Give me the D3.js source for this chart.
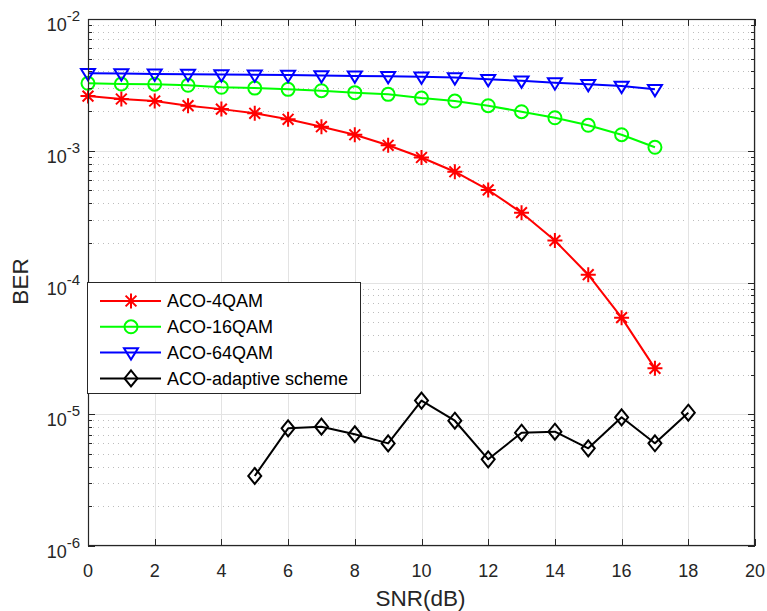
<!DOCTYPE html>
<html>
<head>
<meta charset="utf-8">
<script src="https://cdn.jsdelivr.net/npm/d3@7"></script>
<style>
  html, body { margin: 0; padding: 0; background: #fff; }
  svg { display: block; font-family: "Liberation Sans", Arial, Helvetica, sans-serif; }
</style>
</head>
<body>
<svg id="chart" width="767" height="611"></svg>
<script>
// SNR points (dB)
const snr = [0, 1, 2, 3, 4, 5, 6, 7, 8, 9, 10, 11, 12, 13, 14, 15, 16, 17];
const snrAdaptive = [5, 6, 7, 8, 9, 10, 11, 12, 13, 14, 15, 16, 17, 18];

// BER per scheme
const ber4qam = [2.60e-3, 2.47e-3, 2.385e-3, 2.20e-3, 2.07e-3, 1.925e-3, 1.733e-3, 1.522e-3, 1.323e-3,
                 1.10e-3, 8.89e-4, 6.93e-4, 5.04e-4, 3.39e-4, 2.08e-4, 1.146e-4, 5.41e-5, 2.23e-5];
const ber16qam = [3.25e-3, 3.21e-3, 3.20e-3, 3.14e-3, 3.03e-3, 2.99e-3, 2.925e-3, 2.855e-3, 2.76e-3,
                  2.68e-3, 2.51e-3, 2.385e-3, 2.198e-3, 1.978e-3, 1.78e-3, 1.56e-3, 1.323e-3, 1.062e-3];
const ber64qam = [3.87e-3, 3.85e-3, 3.83e-3, 3.81e-3, 3.79e-3, 3.77e-3, 3.75e-3, 3.72e-3, 3.70e-3,
                  3.67e-3, 3.64e-3, 3.59e-3, 3.485e-3, 3.40e-3, 3.285e-3, 3.195e-3, 3.10e-3, 2.925e-3];
const berAdaptive = [3.40e-6, 7.82e-6, 8.05e-6, 7.05e-6, 6.01e-6, 1.27e-5, 8.93e-6, 4.55e-6,
                     7.24e-6, 7.37e-6, 5.51e-6, 9.48e-6, 6.02e-6, 1.027e-5];

const seriesNames = ["ACO-4QAM", "ACO-16QAM", "ACO-64QAM", "ACO-adaptive scheme"];
const xTicks = [0, 2, 4, 6, 8, 10, 12, 14, 16, 18, 20];
const yExponents = [-6, -5, -4, -3, -2];

const series = [
  { name: seriesNames[0], x: snr, y: ber4qam, color: "#ff0000", marker: "star" },
  { name: seriesNames[1], x: snr, y: ber16qam, color: "#00ff00", marker: "circle" },
  { name: seriesNames[2], x: snr, y: ber64qam, color: "#0000ff", marker: "triangleDown" },
  { name: seriesNames[3], x: snrAdaptive, y: berAdaptive, color: "#000000", marker: "diamond" }
];

const svg = d3.select("#chart");
const plotL = 88, plotR = 755, plotT = 19, plotB = 546;
const axisColor = "#262626";

const x = d3.scaleLinear().domain([0, 20]).range([plotL, plotR]);
const y = d3.scaleLog().domain([1e-6, 1e-2]).range([plotB, plotT]);

// minor decade values 2..9 × 10^k
const minorVals = [];
for (let e = -6; e < -2; e++) for (let m = 2; m <= 9; m++) minorVals.push(m * Math.pow(10, e));

const grid = svg.append("g");
// minor horizontal grid (dotted)
grid.selectAll("line.minor").data(minorVals).join("line")
  .attr("x1", plotL).attr("x2", plotR)
  .attr("y1", d => Math.round(y(d)) + 0.5).attr("y2", d => Math.round(y(d)) + 0.5)
  .attr("stroke", "#bdbdbd").attr("stroke-width", 1).attr("stroke-dasharray", "1,4");
// major horizontal grid
grid.selectAll("line.hmaj").data(yExponents).join("line")
  .attr("x1", plotL).attr("x2", plotR)
  .attr("y1", d => Math.round(y(Math.pow(10, d))) + 0.5).attr("y2", d => Math.round(y(Math.pow(10, d))) + 0.5)
  .attr("stroke", "#e3e3e3").attr("stroke-width", 1);
// major vertical grid
grid.selectAll("line.vmaj").data(xTicks).join("line")
  .attr("x1", d => Math.round(x(d)) + 0.5).attr("x2", d => Math.round(x(d)) + 0.5)
  .attr("y1", plotT).attr("y2", plotB)
  .attr("stroke", "#e3e3e3").attr("stroke-width", 1);

// data lines and markers
const plot = svg.append("g");
function drawMarker(g, type, cx, cy, color) {
  if (type === "star") {
    const r = 7.5, d = r * 0.72;
    const p = `M${cx - r},${cy}L${cx + r},${cy}M${cx},${cy - r}L${cx},${cy + r}` +
              `M${cx - d},${cy - d}L${cx + d},${cy + d}M${cx - d},${cy + d}L${cx + d},${cy - d}`;
    g.append("path").attr("d", p).attr("stroke", color).attr("stroke-width", 2).attr("fill", "none");
  } else if (type === "circle") {
    g.append("circle").attr("cx", cx).attr("cy", cy).attr("r", 6.5)
      .attr("stroke", color).attr("stroke-width", 2).attr("fill", "none");
  } else if (type === "triangleDown") {
    const w = 7, h = 7;
    g.append("path").attr("d", `M${cx - w},${cy - h * 0.62}L${cx + w},${cy - h * 0.62}L${cx},${cy + h}Z`)
      .attr("stroke", color).attr("stroke-width", 2).attr("fill", "none");
  } else if (type === "diamond") {
    const w = 6.5, h = 8;
    g.append("path").attr("d", `M${cx},${cy - h}L${cx + w},${cy}L${cx},${cy + h}L${cx - w},${cy}Z`)
      .attr("stroke", color).attr("stroke-width", 2).attr("fill", "none");
  }
}

const line = d3.line().x(d => x(d[0])).y(d => y(d[1]));
series.forEach(s => {
  const pts = s.x.map((v, i) => [v, s.y[i]]);
  plot.append("path").datum(pts).attr("d", line)
    .attr("fill", "none").attr("stroke", s.color).attr("stroke-width", 2)
    .attr("stroke-linejoin", "round");
  const mg = plot.append("g");
  pts.forEach(p => drawMarker(mg, s.marker, x(p[0]), y(p[1]), s.color));
});

// axes box and ticks
const ax = svg.append("g").attr("stroke", axisColor).attr("fill", "none");
ax.append("rect").attr("x", plotL + 0.5).attr("y", plotT + 0.5)
  .attr("width", plotR - plotL - 1).attr("height", plotB - plotT - 1)
  .attr("stroke-width", 1.2);
xTicks.forEach(t => {
  const px = Math.round(x(t)) + 0.5;
  ax.append("line").attr("x1", px).attr("x2", px).attr("y1", plotB).attr("y2", plotB - 7);
  ax.append("line").attr("x1", px).attr("x2", px).attr("y1", plotT).attr("y2", plotT + 7);
});
yExponents.forEach(e => {
  const py = Math.round(y(Math.pow(10, e))) + 0.5;
  ax.append("line").attr("x1", plotL).attr("x2", plotL + 7).attr("y1", py).attr("y2", py);
  ax.append("line").attr("x1", plotR).attr("x2", plotR - 7).attr("y1", py).attr("y2", py);
});
minorVals.forEach(v => {
  const py = Math.round(y(v)) + 0.5;
  ax.append("line").attr("x1", plotL).attr("x2", plotL + 4).attr("y1", py).attr("y2", py);
  ax.append("line").attr("x1", plotR).attr("x2", plotR - 4).attr("y1", py).attr("y2", py);
});

// tick labels
const labels = svg.append("g").attr("fill", axisColor);
labels.selectAll("text.xt").data(xTicks).join("text")
  .attr("x", d => x(d)).attr("y", plotB + 31)
  .attr("text-anchor", "middle").attr("font-size", 18).text(d => d);
yExponents.forEach(e => {
  const t = labels.append("text").attr("x", plotL - 8).attr("y", y(Math.pow(10, e)) + 12)
    .attr("text-anchor", "end").attr("font-size", 18);
  t.append("tspan").text("10");
  t.append("tspan").attr("font-size", 15).attr("dy", -10).text(e);
});

// axis titles
labels.append("text").attr("x", (plotL + plotR) / 2 - 1).attr("y", 606)
  .attr("text-anchor", "middle").attr("font-size", 22.5).text("SNR(dB)");
labels.append("text").attr("transform", `translate(28,${(plotT + plotB) / 2 - 1}) rotate(-90)`)
  .attr("text-anchor", "middle").attr("font-size", 22.5).text("BER");

// legend
const lg = svg.append("g");
const lx = 87, ly = 282, lw = 273, lh = 111;
lg.append("rect").attr("x", lx + 0.5).attr("y", ly + 0.5).attr("width", lw).attr("height", lh)
  .attr("fill", "#fff").attr("stroke", axisColor).attr("stroke-width", 1);
series.forEach((s, i) => {
  const cy = ly + 19 + i * 25.8;
  lg.append("line").attr("x1", lx + 13).attr("x2", lx + 74).attr("y1", cy).attr("y2", cy)
    .attr("stroke", s.color).attr("stroke-width", 2);
  drawMarker(lg, s.marker, lx + 44, cy, s.color);
  lg.append("text").attr("x", lx + 80).attr("y", cy + 6.3).attr("font-size", 18)
    .attr("fill", "#000").text(s.name);
});
</script>
</body>
</html>
